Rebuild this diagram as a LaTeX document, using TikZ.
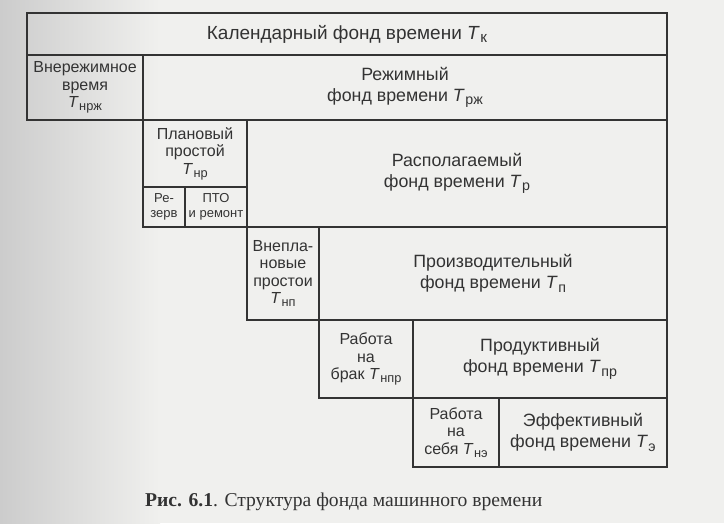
\documentclass[tikz,border=0pt]{standalone}
\usepackage{fontspec}
\setmainfont{Liberation Sans}
\newfontfamily\capfont{Liberation Serif}
\usepackage{tikz}
\usetikzlibrary{positioning}

\definecolor{ink}{HTML}{333333}
\definecolor{paper}{HTML}{F0F0EE}

% T with an upright Cyrillic index
\newcommand{\Tind}[1]{\textit{T}\kern0.5pt\raisebox{-0.35ex}{\fontsize{0.8em}{1em}\selectfont #1}}

\begin{document}
\begin{tikzpicture}[
    x=1pt, y=1pt,
    box/.style={rectangle, draw=ink, line width=1.2pt, inner sep=0pt, outer sep=0pt,
      align=center, text=ink, font=\fontsize{16}{17.5}\selectfont},
    fund/.style={box, font=\fontsize{17.8}{21}\selectfont},
    small/.style={box, font=\fontsize{13}{14.5}\selectfont}
  ]

  % page
  \fill[paper] (0,0) rectangle (724,-523);
  \shade[left color=gray!40, right color=paper] (0,0) rectangle (160,-523);
  \useasboundingbox (0,0) rectangle (724,-523);

  \node[fund, minimum width=640pt, minimum height=42pt, anchor=north west,
    font=\fontsize{19}{21}\selectfont] (kal) at (27,-13) {Календарный фонд времени \Tind{к}};

  \node[box, minimum width=116pt, minimum height=65pt, anchor=north west] (nrzh) at (kal.south west) {Внережимное\\время\\\Tind{нрж}};
  \node[fund, minimum width=524pt, minimum height=65pt] (rzh) [right=0pt of nrzh] {Режимный\\фонд времени \Tind{рж}};

  \node[box, minimum width=104pt, minimum height=67pt, anchor=north west] (nr) at (nrzh.south east) {Плановый\\простой\\\Tind{нр}};
  \node[small, minimum width=42pt, minimum height=40pt, anchor=north west] (rez) at (nr.south west) {Ре-\\зерв};
  \node[small, minimum width=62pt, minimum height=40pt] (pto) [right=0pt of rez] {ПТО\\и ремонт};
  \node[fund, minimum width=420pt, minimum height=107pt, anchor=north west] (rasp) at (nr.north east) {Располагаемый\\фонд времени \Tind{р}};

  \node[box, minimum width=72pt, minimum height=93pt, anchor=north west] (nep) at (pto.south east) {Внепла-\\новые\\простои\\\Tind{нп}};
  \node[fund, minimum width=348pt, minimum height=93pt] (prz) [right=0pt of nep] {Производительный\\фонд времени \Tind{п}};

  \node[box, minimum width=94pt, minimum height=78pt, anchor=north west] (brak) at (nep.south east) {Работа\\на\\брак \Tind{нпр}};
  \node[fund, minimum width=254pt, minimum height=78pt] (prod) [right=0pt of brak] {Продуктивный\\фонд времени \Tind{пр}};

  \node[box, minimum width=86pt, minimum height=69pt, anchor=north west] (seb) at (brak.south east) {Работа\\на\\себя \Tind{нэ}};
  \node[fund, minimum width=168pt, minimum height=69pt] (eff) [right=0pt of seb] {Эффективный\\фонд времени \Tind{э}};

  \node[anchor=base west, inner sep=0pt, text=ink, font=\capfont\fontsize{19.6}{21}\selectfont] (cap) at (145,-506)
    {\textbf{Рис. 6.1}. Структура фонда машинного времени};

\end{tikzpicture}
\end{document}
